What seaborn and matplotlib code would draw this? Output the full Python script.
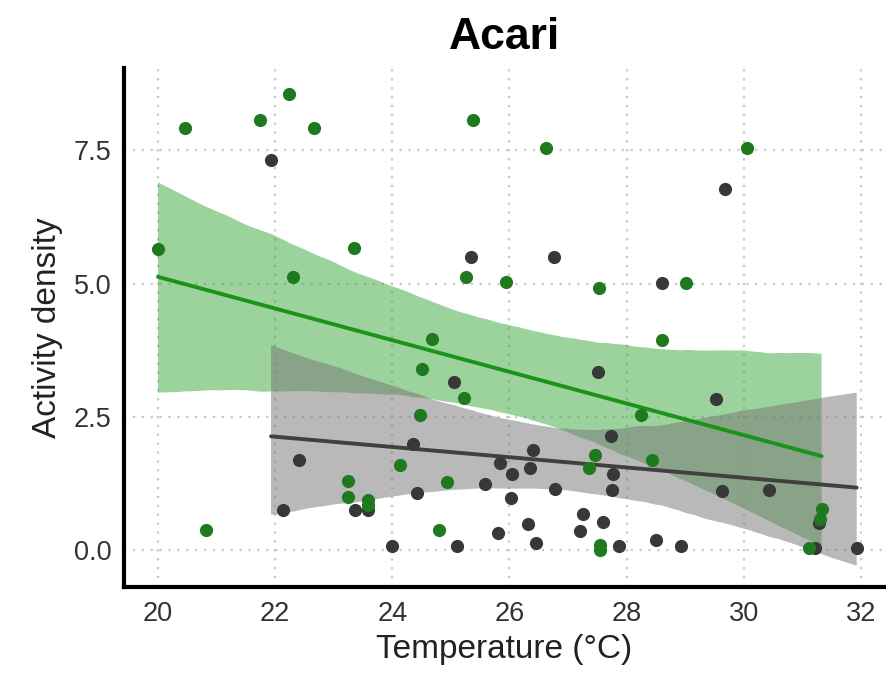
import matplotlib
matplotlib.use("Agg")
import matplotlib.pyplot as plt
import seaborn as sns
import pandas as pd
import numpy as np

# ---- data ----
green_temp = [20.00, 20.46, 21.75, 22.23, 22.67, 20.82, 22.30, 23.34, 25.38, 25.26,
              26.63, 30.05, 25.95, 27.53, 29.01, 28.60, 24.67, 24.50, 25.23, 24.48,
              24.14, 24.94, 23.24, 23.24, 23.58, 23.58, 24.79, 28.25, 27.46, 27.36,
              28.43, 31.33, 31.30, 31.12, 27.55, 27.55]
green_dens = [5.65, 7.92, 8.07, 8.56, 7.92, 0.39, 5.12, 5.67, 8.08, 5.12,
              7.54, 7.54, 5.03, 4.92, 5.01, 3.95, 3.97, 3.41, 2.85, 2.53,
              1.61, 1.29, 1.31, 1.00, 0.95, 0.85, 0.39, 2.53, 1.78, 1.54,
              1.69, 0.78, 0.58, 0.04, 0.10, 0.00]

gray_temp = [21.93, 25.35, 29.68, 26.76, 28.60, 25.06, 24.35, 22.40, 25.59, 24.43,
             23.36, 23.58, 22.13, 24.00, 25.10, 25.81, 27.51, 29.52, 27.73, 26.41,
             25.84, 26.04, 26.35, 26.78, 26.03, 27.77, 27.75, 29.63, 30.43, 31.28,
             31.22, 31.93, 27.26, 27.60, 26.32, 27.20, 26.46, 27.87, 28.50, 28.93]
gray_dens = [7.32, 5.50, 6.77, 5.50, 5.01, 3.15, 2.00, 1.69, 1.24, 1.07,
             0.75, 0.75, 0.75, 0.08, 0.08, 0.32, 3.34, 2.83, 2.14, 1.89,
             1.63, 1.44, 1.54, 1.16, 0.99, 1.44, 1.14, 1.12, 1.14, 0.52,
             0.04, 0.04, 0.69, 0.53, 0.50, 0.36, 0.13, 0.09, 0.20, 0.08]

x_ticks = [20, 22, 24, 26, 28, 30, 32]
y_ticks = [0.0, 2.5, 5.0, 7.5]
title = "Acari"
x_label = "Temperature (°C)"
y_label = "Activity density"

df = pd.DataFrame({
    "temp": green_temp + gray_temp,
    "dens": green_dens + gray_dens,
    "group": ["green"] * len(green_temp) + ["gray"] * len(gray_temp),
})

sns.set_theme(style="white")
plt.rcParams["font.family"] = ["Liberation Sans", "DejaVu Sans"]

fig = plt.figure(figsize=(8.86, 6.90), dpi=100)
ax = fig.add_axes([0.14, 0.149, 0.858, 0.752])

styles = {
    "green": dict(point="#1f7a1f", line="#1a931a", band="#3aa63a", alpha=0.5),
    "gray": dict(point="#383838", line="#404040", band="#757575", alpha=0.5),
}

for grp in ["green", "gray"]:
    sub = df[df["group"] == grp]
    st = styles[grp]
    n_before = len(ax.collections)
    sns.regplot(data=sub, x="temp", y="dens", ax=ax, scatter=False, ci=95,
                truncate=True, seed=3, n_boot=2000,
                color=st["band"], line_kws=dict(color=st["line"], lw=2.8, zorder=4))
    for coll in ax.collections[n_before:]:
        coll.set_facecolor(st["band"])
        coll.set_alpha(st["alpha"])
        coll.set_edgecolor("none")
        coll.set_zorder(2)

for grp in ["gray", "green"]:
    sub = df[df["group"] == grp]
    sns.scatterplot(data=sub, x="temp", y="dens", ax=ax, color=styles[grp]["point"],
                    s=90, linewidth=0, zorder=5)

ax.set_xlim(19.42, 32.4)
ax.set_ylim(-0.69, 9.04)
ax.set_xticks(x_ticks)
ax.set_xticklabels([str(t) for t in x_ticks])
ax.set_yticks(y_ticks)
ax.set_yticklabels([f"{t:.1f}" for t in y_ticks])

ax.grid(True, linestyle=(0, (1, 3)), color="#c8c8c8", linewidth=1.6, zorder=0)
ax.set_axisbelow(True)

for s in ["top", "right"]:
    ax.spines[s].set_visible(False)
for s in ["left", "bottom"]:
    ax.spines[s].set_color("black")
    ax.spines[s].set_linewidth(3)

ax.tick_params(axis="both", length=0, labelsize=19.5, labelcolor="#333333")
ax.tick_params(axis="x", pad=10)
ax.tick_params(axis="y", pad=9)

ax.set_xlabel(x_label, fontsize=24, color="#222222", labelpad=5)
ax.set_ylabel(y_label, fontsize=24, color="#222222", labelpad=8)
ax.set_title(title, fontsize=32, fontweight="bold", color="black", pad=14)

fig.savefig("out.png", dpi=100)
